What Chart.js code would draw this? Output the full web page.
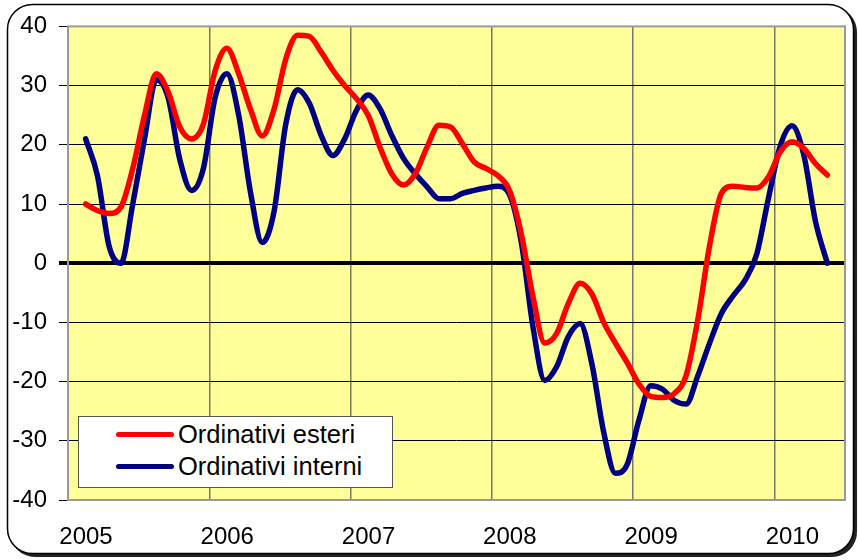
<!DOCTYPE html>
<html>
<head>
<meta charset="utf-8">
<title>Ordinativi esteri e interni</title>
<script src="https://cdn.jsdelivr.net/npm/chart.js@4.4.1/dist/chart.umd.min.js"></script>
<style>
  html, body { margin: 0; padding: 0; background: #fff; }
  #wrap { position: relative; width: 858px; height: 560px; }
  #legend {
    position: absolute; left: 78px; top: 416px; width: 315px; height: 72px;
    box-sizing: border-box; border: 1px solid #555; background: #fff;
    font-family: "Liberation Sans", Arial, sans-serif; font-size: 25.5px; color: #000;
  }
  #legend .item { position: absolute; left: 0; height: 32px; display: flex; align-items: center; white-space: nowrap; }
  #legend .swatch { display: inline-block; width: 58px; height: 5px; border-radius: 3px; margin-left: 37px; margin-right: 4px; }
</style>
</head>
<body>
<div id="wrap">
  <canvas id="myChart" width="858" height="560"></canvas>
  <div id="legend"></div>
</div>
<script>
// tick labels on the x axis (one per year)
var years = ['2005', '2006', '2007', '2008', '2009', '2010'];

// monthly values, Jan 2005 .. Apr 2010
var esteri = [
    10, 8.9, 8.4, 9.5, 16, 25, 32, 29, 23, 21, 23.5, 32.5,
    36.3, 32, 26, 21.5, 26, 34.5, 38.5, 38.3, 35.7, 32.6, 30, 27.8,
    25, 19.6, 15.1, 13.2, 15.1, 19.6, 23.3, 23, 20.2, 17.1, 16, 14.8,
    12.3, 5, -5.7, -13.5, -11.9, -6.8, -3.4, -5.2, -10, -13.5, -16.8, -20.4,
    -22.5, -22.7, -22, -19, -9.5, 3, 11.8, 13, 12.8, 12.7, 14.6, 18.8,
    20.5, 19.4, 16.8, 14.9
];
var interni = [
    21, 14.8, 2.8, 0, 10, 21, 31, 28, 17.5, 12.3, 16, 28,
    32, 25, 12, 3.5, 8.7, 23.5, 29.3, 27, 21.6, 18.2, 21, 25.8,
    28.4, 26.1, 21.6, 17.7, 15.1, 12.9, 10.9, 10.9, 11.8, 12.3, 12.7, 13,
    11.6, 3.6, -10.8, -19.8, -17.5, -12.4, -10.2, -17, -28.5, -35.5, -34, -26.5,
    -20.7, -21.3, -23.2, -23.8, -19, -13.5, -8.5, -5.5, -2.9, 1.5, 11, 19.8,
    23.2, 18.3, 7, 0
];

var FIRST = 1.5;   // first month sits 1.5 months right of the 2005 line
var SPAN = 66;     // months shown on the axis

function toPoints(arr) {
    return arr.map(function (v, i) { return { x: i + FIRST, y: v }; });
}

function roundRect(ctx, x, y, w, h, r) {
    ctx.beginPath();
    ctx.moveTo(x + r, y);
    ctx.arcTo(x + w, y, x + w, y + h, r);
    ctx.arcTo(x + w, y + h, x, y + h, r);
    ctx.arcTo(x, y + h, x, y, r);
    ctx.arcTo(x, y, x + w, y, r);
    ctx.closePath();
}

var framePlugin = {
    id: 'frame',
    beforeDraw: function (chart) {
        var ctx = chart.ctx, a = chart.chartArea;
        ctx.save();
        roundRect(ctx, 10, 7, 847, 550, 25);
        ctx.fillStyle = '#222';
        ctx.fill();
        roundRect(ctx, 7.5, 4.5, 846, 549, 25);
        ctx.fillStyle = '#fff';
        ctx.fill();
        ctx.lineWidth = 1.5;
        ctx.strokeStyle = '#000';
        ctx.stroke();
        ctx.fillStyle = '#FFFF99';
        ctx.fillRect(a.left, a.top, a.right - a.left, a.bottom - a.top);
        ctx.restore();
    },
    beforeDatasetsDraw: function (chart) {
        var ctx = chart.ctx, a = chart.chartArea;
        ctx.save();
        ctx.strokeStyle = '#999';
        ctx.lineWidth = 2;
        ctx.strokeRect(a.left, a.top, a.right - a.left, a.bottom - a.top);
        ctx.restore();
    }
};

Chart.defaults.font.family = '"Liberation Sans", Arial, sans-serif';
Chart.defaults.color = '#000';

var ctx = document.getElementById('myChart').getContext('2d');
var chart = new Chart(ctx, {
    type: 'line',
    data: {
        datasets: [{
            label: 'Ordinativi esteri',
            data: toPoints(esteri),
            borderColor: '#FF0000',
            backgroundColor: '#FF0000'
        }, {
            label: 'Ordinativi interni',
            data: toPoints(interni),
            borderColor: '#000080',
            backgroundColor: '#000080'
        }]
    },
    options: {
        responsive: false,
        animation: false,
        layout: { padding: { top: 26, right: 13, left: 0, bottom: 0 } },
        elements: {
            line: {
                borderWidth: 5.5,
                cubicInterpolationMode: 'monotone',
                borderJoinStyle: 'round',
                borderCapStyle: 'round'
            },
            point: { radius: 0 }
        },
        plugins: {
            legend: { display: false },
            tooltip: { enabled: false }
        },
        scales: {
            x: {
                type: 'linear',
                min: 0,
                max: SPAN,
                afterBuildTicks: function (scale) {
                    scale.ticks = years.map(function (y, i) { return { value: i * 12 }; });
                },
                afterFit: function (scale) { scale.height = 60; },
                ticks: {
                    autoSkip: false,
                    maxRotation: 0,
                    labelOffset: 18,
                    padding: 23,
                    font: { size: 24 },
                    callback: function (value, index) { return years[index]; }
                },
                grid: { color: '#77776a', lineWidth: 1.5, drawTicks: false },
                border: { display: false }
            },
            y: {
                min: -40,
                max: 40,
                afterFit: function (scale) { scale.width = 68; },
                ticks: { stepSize: 10, padding: 12, font: { size: 24 } },
                grid: {
                    color: '#000',
                    lineWidth: function (c) { return c.tick && c.tick.value === 0 ? 4 : 1; },
                    tickLength: 9
                },
                border: { display: false }
            }
        }
    },
    plugins: [framePlugin]
});

// legend box built from the datasets
var html = '';
chart.data.datasets.forEach(function (ds, i) {
    html += '<div class="item" style="top:' + (1 + i * 32) + 'px">';
    html += '<span class="swatch" style="background:' + ds.borderColor + '"></span>';
    html += '<span>' + ds.label + '</span></div>';
});
document.getElementById('legend').innerHTML = html;
</script>
</body>
</html>
